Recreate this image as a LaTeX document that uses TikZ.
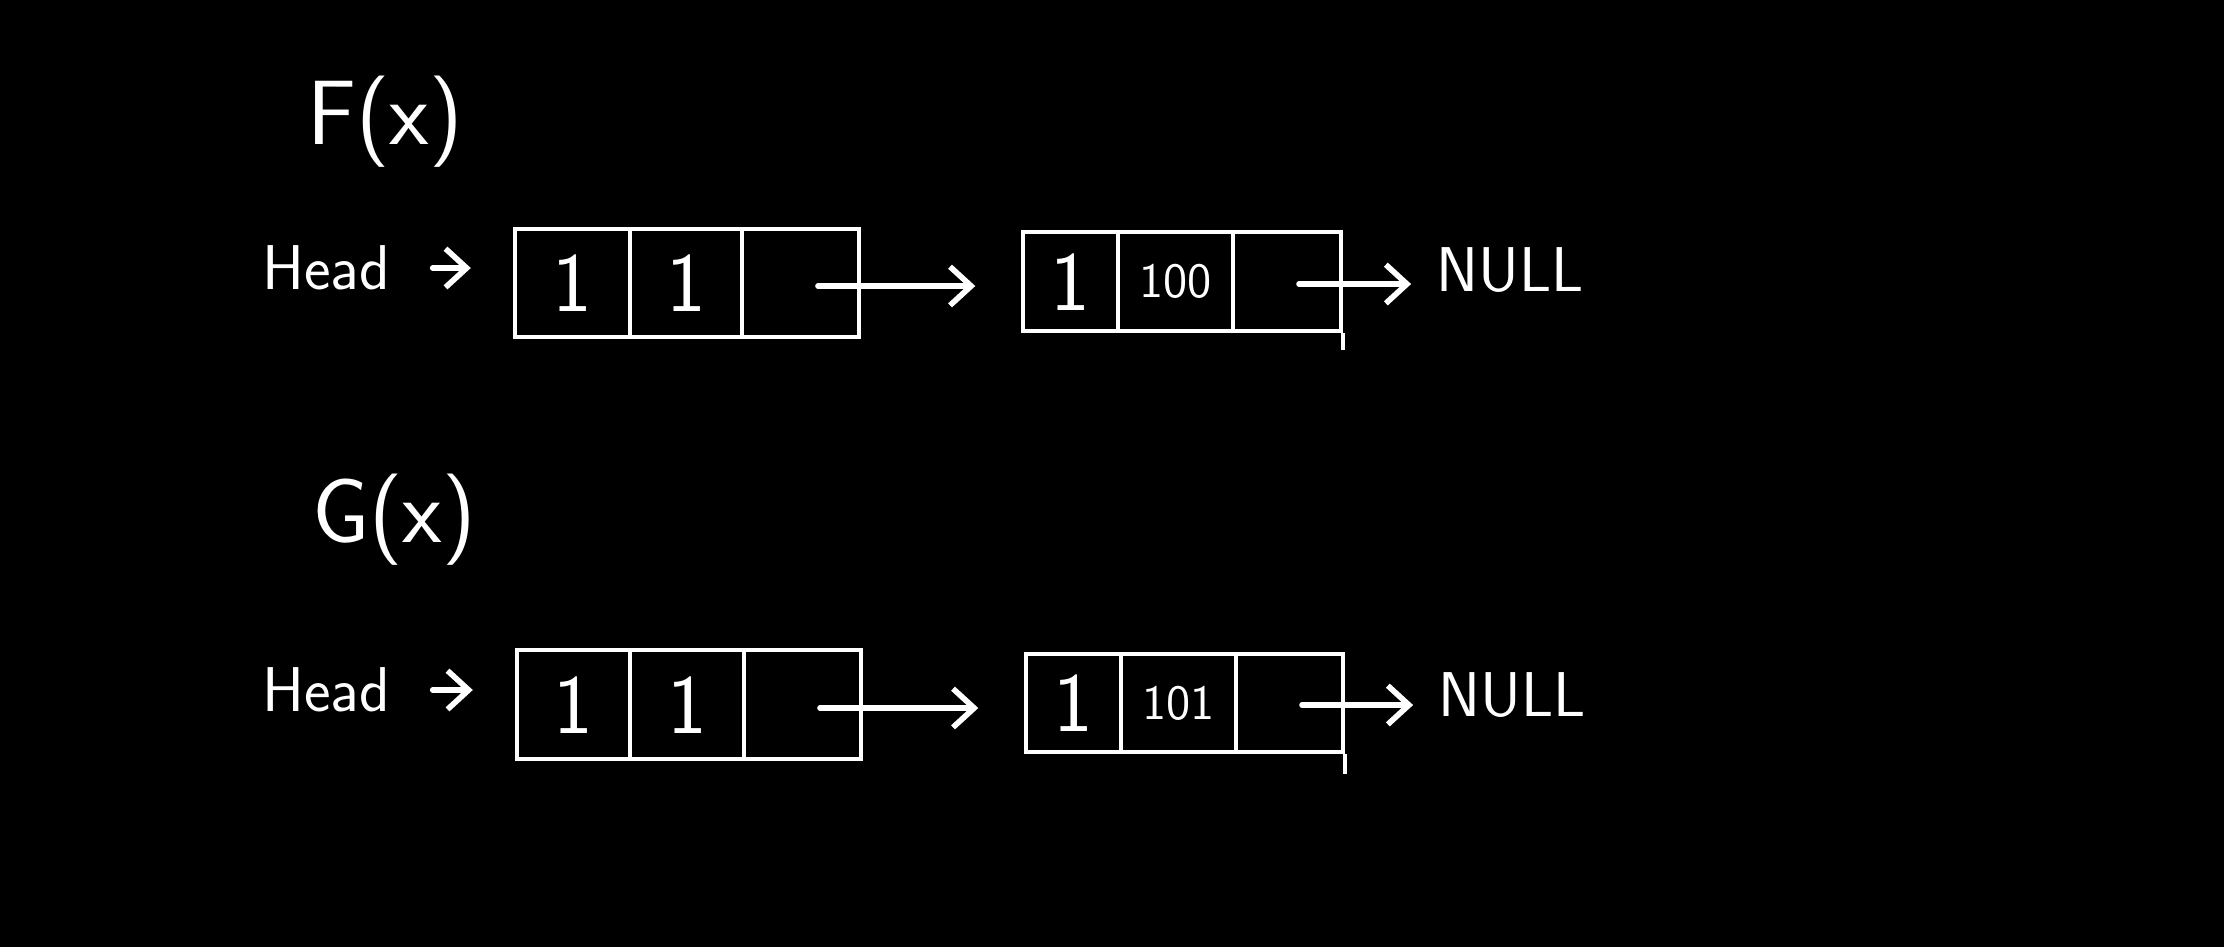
\documentclass[tikz,border=0pt]{standalone}
\usepackage{tikz}
\usetikzlibrary{positioning,arrows.meta}

\tikzset{
  cell/.style={draw=white, line width=1.2pt, anchor=north west, inner sep=0pt,
    font=\sffamily\fontsize{24}{26}\selectfont},
  small/.style={font=\sffamily\fontsize{14}{16}\selectfont},
  title/.style={inner sep=0pt, font=\sffamily\fontsize{26}{28}\selectfont},
  txt/.style={inner sep=0pt, font=\sffamily\fontsize{18}{20}\selectfont},
  ptr/.style={white, line width=1.6pt, line cap=round,
    -{Straight Barb[length=6pt,width=11pt]}},
}

\begin{document}
\begin{tikzpicture}[x=0.01cm, y=-0.01cm, every node/.style={text=white}]

% Background
\fill[black] (0,0) rectangle (2224,947);
\useasboundingbox (0,0) rectangle (2224,947);

% F(x)
\node[title] (fx) at (385,122) {F(x)};
\node[txt] (hd1) at (326,268) {Head};

\node[cell, minimum width=1.15cm, minimum height=1.08cm] (f11) at (513,227) {1};
\node[cell, minimum width=1.12cm, minimum height=1.08cm] (f12) at (628,227) {1};
\node[cell, minimum width=1.17cm, minimum height=1.08cm] (f13) at (740,227) {};
\node[cell, minimum width=0.95cm, minimum height=0.99cm] (f21) at (1021,230) {1};
\node[cell, small, minimum width=1.15cm, minimum height=0.99cm] (f22) at (1116,230) {100};
\node[cell, minimum width=1.08cm, minimum height=0.99cm] (f23) at (1231,230) {};
\draw[white, line width=1.2pt] (f23.south east) -- ++(0,17);

\node[txt] (null1) at (1510,270) {NULL};
\coordinate (p1) at (818,286);
\coordinate (q1) at (1299,284);

\draw[ptr, shorten <=12pt, shorten >=12pt] (hd1.east) -- (hd1.east -| f11.west);
\draw[ptr, shorten >=13pt] (p1) -- (p1 -| f21.west);
\draw[ptr, shorten >=7pt] (q1) -- (q1 -| null1.west);

% G(x)
\node[title] (gx) at (394,520) {G(x)};
\node[txt] (hd2) at (326,690) {Head};

\node[cell, minimum width=1.13cm, minimum height=1.09cm] (g11) at (515,648) {1};
\node[cell, minimum width=1.14cm, minimum height=1.09cm] (g12) at (628,648) {1};
\node[cell, minimum width=1.17cm, minimum height=1.09cm] (g13) at (742,648) {};
\node[cell, minimum width=0.95cm, minimum height=0.98cm] (g21) at (1024,652) {1};
\node[cell, small, minimum width=1.15cm, minimum height=0.98cm] (g22) at (1119,652) {101};
\node[cell, minimum width=1.07cm, minimum height=0.98cm] (g23) at (1234,652) {};
\draw[white, line width=1.2pt] (g23.south east) -- ++(0,20);

\node[txt] (null2) at (1512,695) {NULL};
\coordinate (p2) at (820,708);
\coordinate (q2) at (1302,705);

\draw[ptr, shorten <=12pt, shorten >=12pt] (hd2.east) -- (hd2.east -| g11.west);
\draw[ptr, shorten >=13pt] (p2) -- (p2 -| g21.west);
\draw[ptr, shorten >=7pt] (q2) -- (q2 -| null2.west);

\end{tikzpicture}
\end{document}
